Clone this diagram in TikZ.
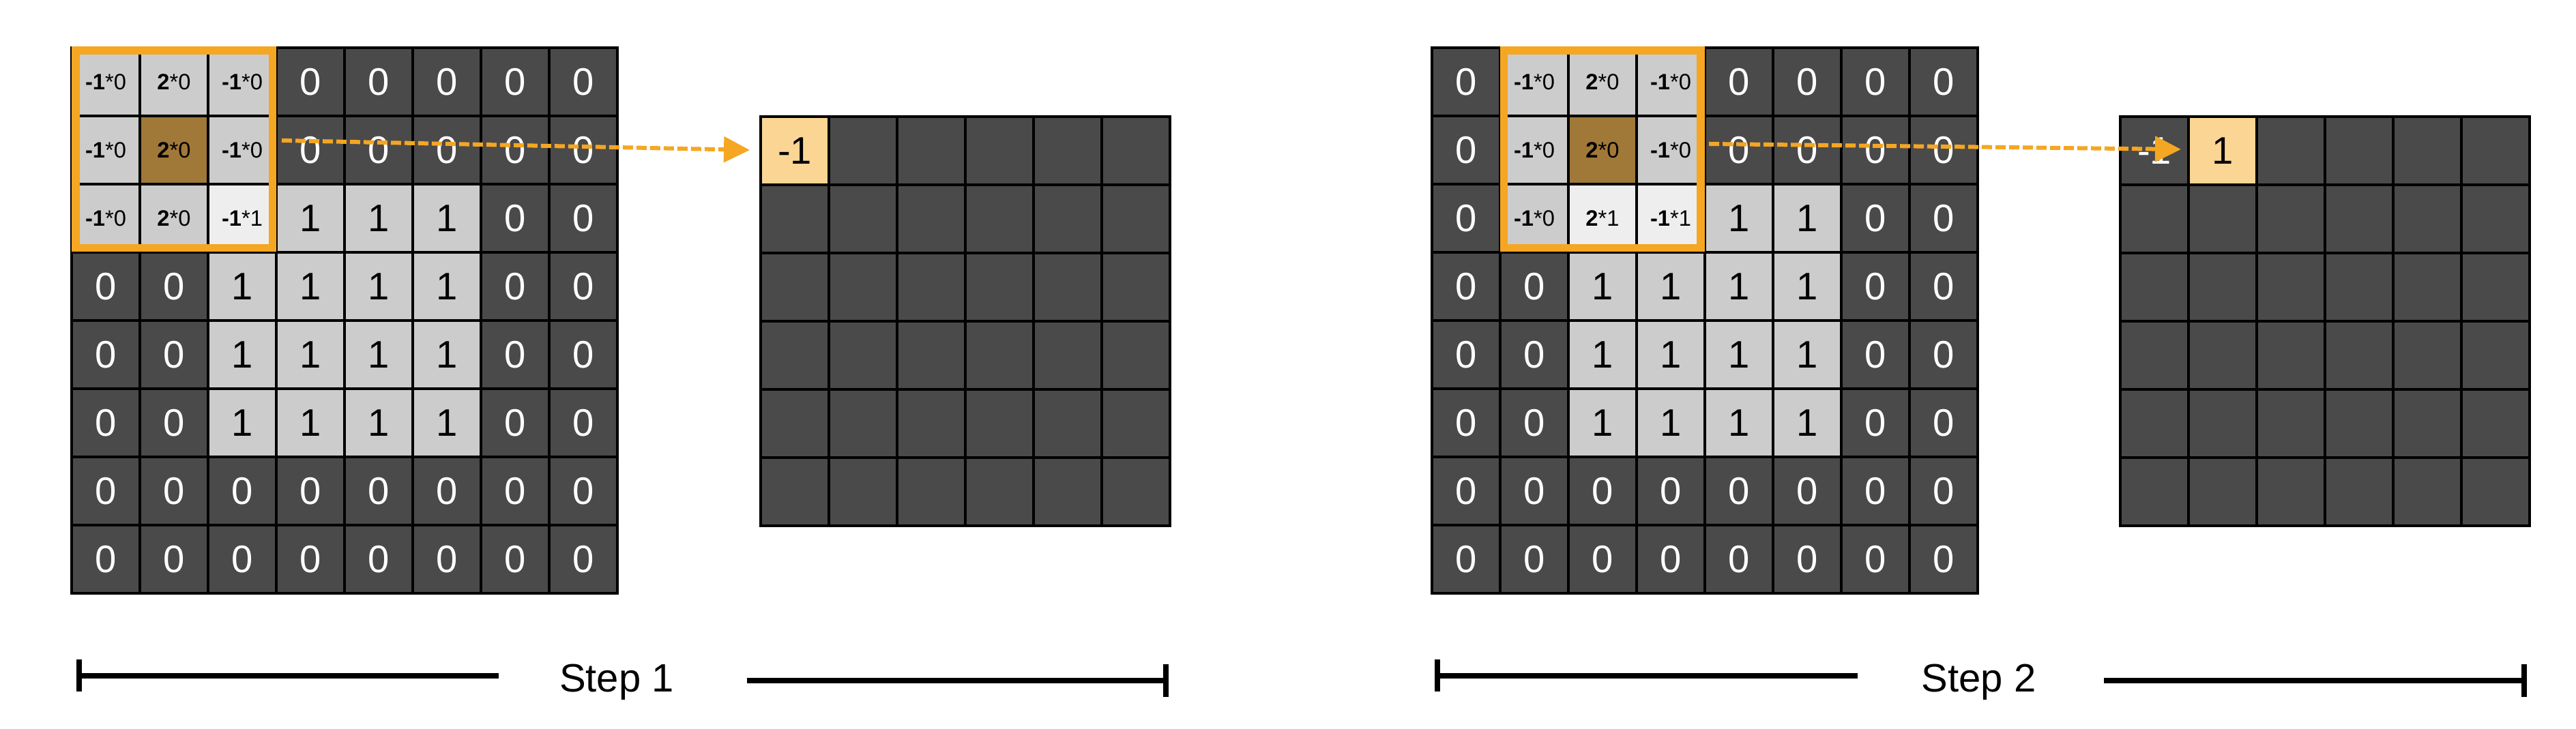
\documentclass[tikz,border=0pt]{standalone}
\usepackage{fontspec}
\setmainfont{Liberation Sans}
\usetikzlibrary{arrows.meta}

\definecolor{pixdark}{RGB}{74,74,74}
\definecolor{pixlight}{RGB}{204,204,204}
\definecolor{pixhit}{RGB}{238,238,238}
\definecolor{kcenter}{RGB}{160,120,56}
\definecolor{korange}{RGB}{245,166,35}
\definecolor{outhit}{RGB}{250,213,148}

\tikzset{
  cell/.style={draw=black, line width=0.9pt, minimum size=1cm, inner sep=0pt, outer sep=0pt,
    anchor=north west, font=\fontsize{16}{16}\selectfont},
  px0/.style={cell, fill=pixdark, text=white},
  px1/.style={cell, fill=pixlight, text=black},
  kcell/.style={cell, text=black, font=\fontsize{9.3}{10}\selectfont},
  window/.style={draw=korange, line width=0.115cm},
  flow/.style={korange, line width=0.06cm, dash pattern=on 0.15cm off 0.05cm,
    -{Triangle[length=0.38cm, width=0.37cm]}},
  scaleline/.style={line width=0.08cm},
  steplabel/.style={anchor=base, font=\fontsize{16.5}{18}\selectfont},
}

\begin{document}
\begin{tikzpicture}
    \useasboundingbox (0,0) rectangle (37.76,10.68);
    % Input images (same 8x8 picture in both steps), window cells left out
    \foreach \s/\x/\k in {a/1.05/0, b/20.99/1}
      \foreach \vals [count=\r from 0] in {{0,0,0,0,0,0,0,0},{0,0,0,0,0,0,0,0},{0,0,1,1,1,1,0,0},{0,0,1,1,1,1,0,0},{0,0,1,1,1,1,0,0},{0,0,1,1,1,1,0,0},{0,0,0,0,0,0,0,0},{0,0,0,0,0,0,0,0}}
        \foreach \v [count=\c from 0] in \vals {
          \pgfmathtruncatemacro\inwin{(\r<3) && (\c>=\k) && (\c<\k+3)}
          \ifnum\inwin=0 \node[px\v] (\s\r\c) at (\x+\c, 9.98-\r) {\v}; \fi
        }

    % Step 1: kernel over columns 0-2
    \foreach \r/\c/\w/\p/\f in {0/0/-1/0/pixlight, 0/1/2/0/pixlight, 0/2/-1/0/pixlight,
        1/0/-1/0/pixlight, 1/1/2/0/kcenter, 1/2/-1/0/pixlight,
        2/0/-1/0/pixlight, 2/1/2/0/pixlight, 2/2/-1/1/pixhit}
      \node[kcell, fill=\f] (ka\r\c) at (1.05+\c, 9.98-\r) {\textbf{\w}*\p};
    \draw[window] (1.11, 9.94) rectangle (3.995, 7.045);

    % Step 2: kernel over columns 1-3
    \foreach \r/\c/\w/\p/\f in {0/1/-1/0/pixlight, 0/2/2/0/pixlight, 0/3/-1/0/pixlight,
        1/1/-1/0/pixlight, 1/2/2/0/kcenter, 1/3/-1/0/pixlight,
        2/1/-1/0/pixlight, 2/2/2/1/pixhit, 2/3/-1/1/pixhit}
      \node[kcell, fill=\f] (kb\r\c) at (20.99+\c, 9.98-\r) {\textbf{\w}*\p};
    \draw[window] (22.045, 9.94) rectangle (24.93, 7.045);

    % Output feature maps 6x6
    \foreach \s/\x in {p/11.15, q/31.08}
      \foreach \r in {0,...,5}
        \foreach \c in {0,...,5}
          \node[px0] (\s\r\c) at (\x+\c, 8.97-\r) {};
    \node[px1, fill=outhit] (hit1) at (11.15, 8.97) {-1};
    \node[px0] (old2) at (31.08, 8.97) {-1};
    \node[px1, fill=outhit] (hit2) at (32.08, 8.97) {1};

    % Arrows from window to result
    \coordinate (from1) at (4.13, 8.62);
    \coordinate (to1) at (10.99, 8.48);
    \coordinate (from2) at (25.05, 8.57);
    \coordinate (to2) at (31.97, 8.49);
    \draw[flow] (from1) -- (to1);
    \draw[flow] (from2) -- (to2);

    % Step bars
    \coordinate (l1a) at (1.115, 0.775); \coordinate (l1b) at (7.31, 0.775);
    \coordinate (r1a) at (10.945, 0.70); \coordinate (r1b) at (17.13, 0.70);
    \draw[scaleline, {Bar[width=0.47cm]}-] (l1a) -- (l1b);
    \draw[scaleline, -{Bar[width=0.48cm]}] (r1a) -- (r1b);
    \node[steplabel] (step1) at (9.04, 0.535) {Step 1};

    \coordinate (l2a) at (21.03, 0.775); \coordinate (l2b) at (27.23, 0.775);
    \coordinate (r2a) at (30.84, 0.70); \coordinate (r2b) at (37.04, 0.70);
    \draw[scaleline, {Bar[width=0.47cm]}-] (l2a) -- (l2b);
    \draw[scaleline, -{Bar[width=0.48cm]}] (r2a) -- (r2b);
    \node[steplabel] (step2) at (29.005, 0.54) {Step 2};
\end{tikzpicture}
\end{document}
